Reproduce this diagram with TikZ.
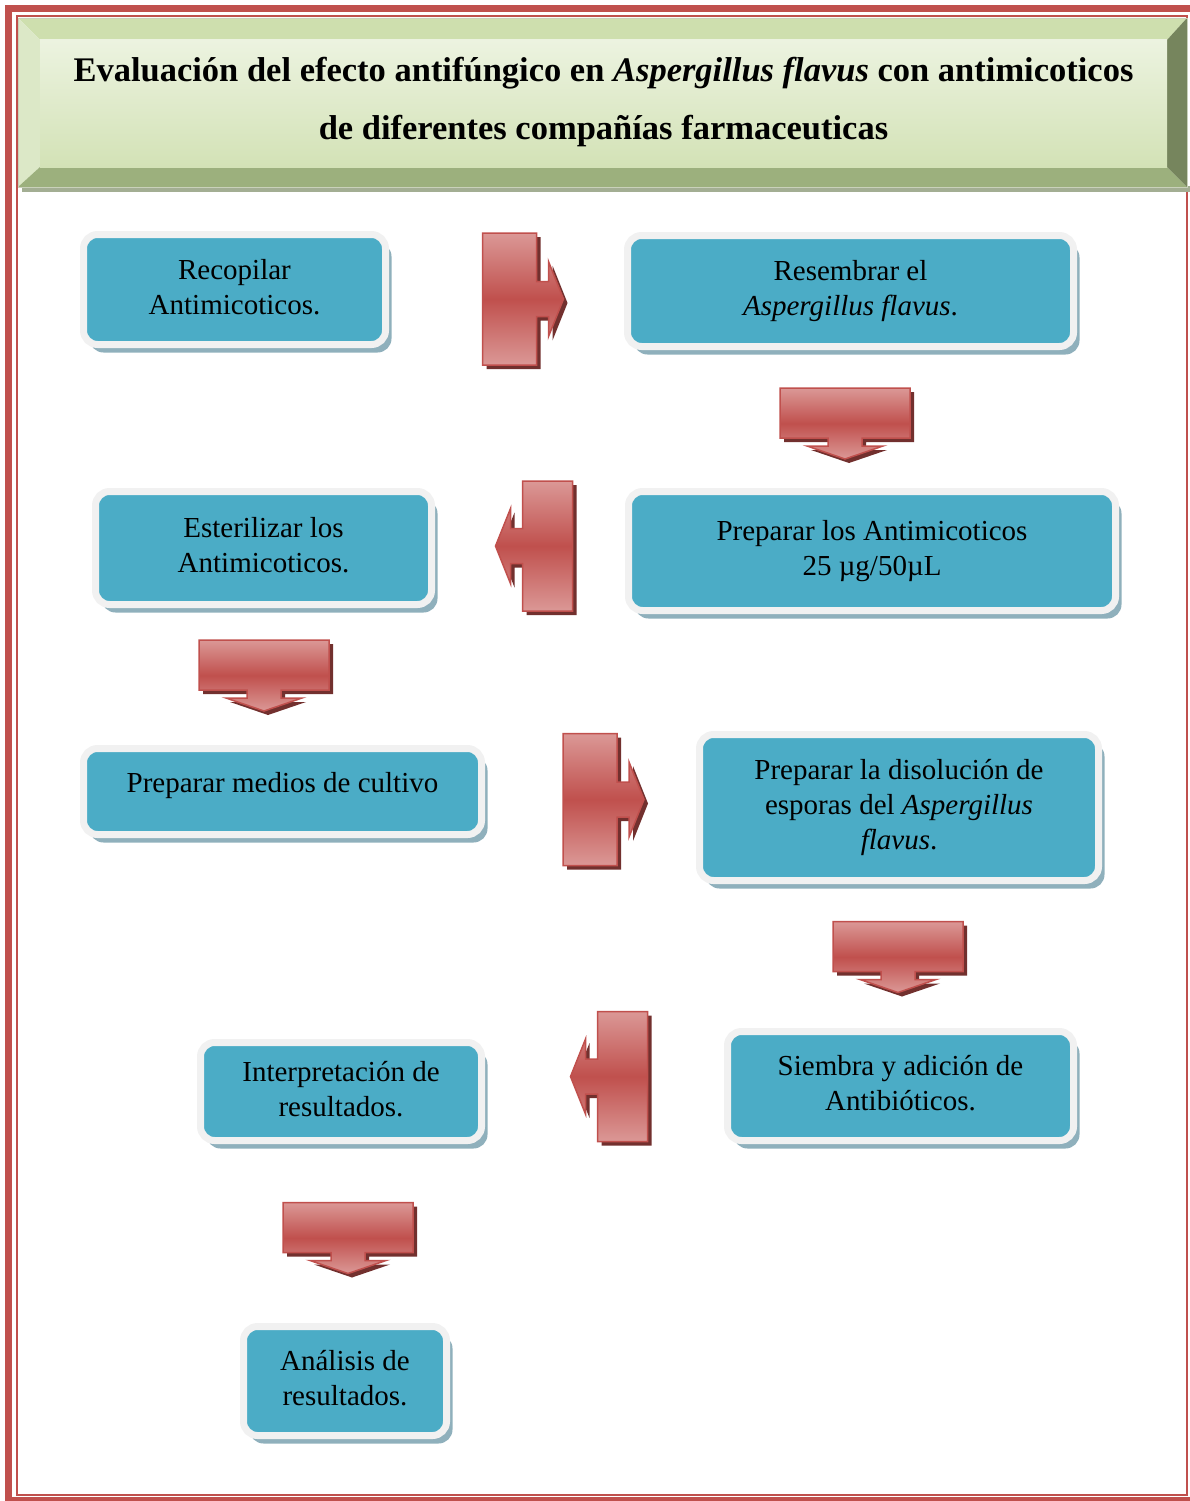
\documentclass[tikz,border=0pt]{standalone}
\usepackage{fontspec}
\setmainfont{Liberation Serif}
\usepackage{tikz}
\usetikzlibrary{shadows}

\definecolor{framered}{HTML}{C0504D}
\definecolor{boxblue}{HTML}{4BACC6}
\definecolor{boxrim}{HTML}{F1F1F1}
\definecolor{boxshade}{HTML}{8FB0BC}
\definecolor{redlight}{HTML}{DB9896}
\definecolor{reddark}{HTML}{C0504D}
\definecolor{redshade}{HTML}{72302E}
\definecolor{bevtop}{HTML}{CEDFAE}
\definecolor{bevleft}{HTML}{DCE8C7}
\definecolor{bevbottom}{HTML}{9CB07D}
\definecolor{bevright}{HTML}{76855D}
\definecolor{facetop}{HTML}{ECF3E0}
\definecolor{facebottom}{HTML}{D3E2B6}
\definecolor{panelshade}{HTML}{A3AE93}

\newcommand{\boxfont}{\fontsize{29}{35}\selectfont}

\begin{document}
\begin{tikzpicture}[
    x=1pt, y=-1pt,
    box/.style={draw=boxrim, line width=7pt, fill=boxblue, rectangle, rounded corners=14pt,
        align=center, font=\boxfont, inner sep=0pt, text depth=6pt,
        drop shadow={shadow xshift=6pt, shadow yshift=-8pt, fill=boxshade, opacity=1}},
    callout/.style={draw=reddark, line width=1.5pt, top color=redlight, bottom color=redlight,
        middle color=reddark,
        drop shadow={shadow xshift=4pt, shadow yshift=-4pt, fill=redshade, opacity=1}},
    downcall/.pic={\draw[callout] (-65,-25) -- (65,-25) -- (65,25) -- (17,25) -- (17,33)
        -- (38,33) -- (0,46) -- (-38,33) -- (-17,33) -- (-17,25) -- (-65,25) -- cycle;},
    rightcall/.pic={\draw[callout] (-27,-66) -- (27,-66) -- (27,-17.5) -- (39,-17.5)
        -- (39,-37.5) -- (54,0) -- (39,37.5) -- (39,17.5) -- (27,17.5) -- (27,66)
        -- (-27,66) -- cycle;},
    leftcall/.pic={\draw[callout] (25,-65) -- (-25,-65) -- (-25,-17.5) -- (-37,-17.5)
        -- (-37,-37.5) -- (-52,0) -- (-37,37.5) -- (-37,17.5) -- (-25,17.5) -- (-25,65)
        -- (25,65) -- cycle;}
]
    \useasboundingbox (0,0) rectangle (1190,1501);
    \clip (0,0) rectangle (1190,1501);

    % Page border
    \draw[framered, line width=7pt] (8.5,8.5) rectangle (1196,1500.5);
    \draw[framered, line width=2pt] (16.5,16.5) rectangle (1187,1495);

    % Title panel
    \fill[panelshade] (22,186) rectangle (1190,192);
    \fill[bevtop] (18,18) -- (1187,18) -- (1167,40) -- (40,40) -- cycle;
    \fill[bevleft] (18,18) -- (40,40) -- (40,167) -- (18,187) -- cycle;
    \fill[bevbottom] (18,187) -- (40,167) -- (1167,167) -- (1187,187) -- cycle;
    \fill[bevright] (1187,18) -- (1187,187) -- (1167,167) -- (1167,40) -- cycle;
    \shade[top color=facetop, bottom color=facebottom] (40,40) rectangle (1167,167);
    \draw[bevtop!80!black!60, line width=0.8pt] (18,18) rectangle (1187,187);
    \node[font=\fontsize{34.5}{58}\selectfont\bfseries, align=center] (title) at (603.5,102)
        {Evaluación del efecto antifúngico en \textit{Aspergillus flavus} con antimicoticos\\
         de diferentes compañías farmaceuticas};

    % Steps
    \node[box, minimum width=302, minimum height=110] (recopilar) at (234.5,289.5)
        {Recopilar\\Antimicoticos.};
    \node[box, minimum width=446, minimum height=111] (resembrar) at (850.5,291)
        {Resembrar el\\\textit{Aspergillus flavus}.};
    \node[box, minimum width=487, minimum height=119] (preparar) at (872,551)
        {Preparar los Antimicoticos\\25 µg/50µL};
    \node[box, minimum width=336, minimum height=113] (esterilizar) at (263.5,548)
        {Esterilizar los\\Antimicoticos.};
    \node[box, minimum width=398, minimum height=86, text depth=18pt] (medios) at (282.5,791.5)
        {Preparar medios de cultivo};
    \node[box, minimum width=399, minimum height=146] (disolucion) at (899,807.5)
        {Preparar la disolución de\\esporas del \textit{Aspergillus}\\\textit{flavus}.};
    \node[box, minimum width=346, minimum height=109] (siembra) at (900.5,1086)
        {Siembra y adición de\\Antibióticos.};
    \node[box, minimum width=281, minimum height=98] (interpretacion) at (341,1091.5)
        {Interpretación de\\resultados.};
    \node[box, minimum width=203, minimum height=109] (analisis) at (345,1381)
        {Análisis de\\resultados.};

    % Callout arrows
    \pic at (509.5,299) {rightcall};
    \pic at (845,413) {downcall};
    \pic at (547.5,546) {leftcall};
    \pic at (264,665) {downcall};
    \pic at (590,799.5) {rightcall};
    \pic at (898,946.5) {downcall};
    \pic at (622.5,1076.5) {leftcall};
    \pic at (348,1227.5) {downcall};
\end{tikzpicture}
\end{document}
